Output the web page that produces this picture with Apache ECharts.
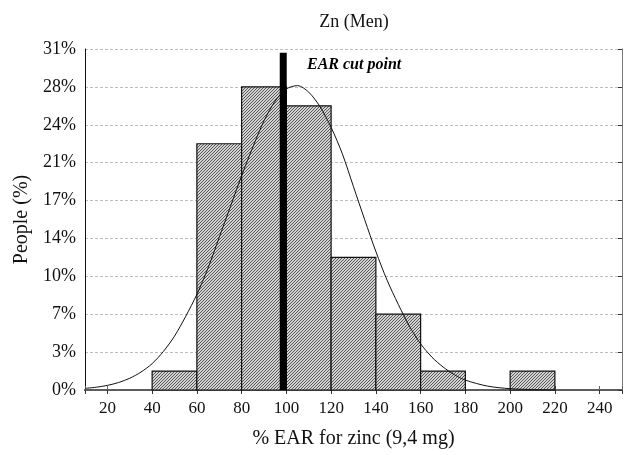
<!DOCTYPE html>
<html><head><meta charset="utf-8">
<script src="https://cdn.jsdelivr.net/npm/echarts@6/dist/echarts.min.js"></script>
<style>html,body{margin:0;padding:0;background:#fff}#c{width:625px;height:455px}</style>
</head><body><div id="c"></div>
<script>
// Histogram bins (% EAR) and people share (%)
const binStart = [40, 60, 80, 100, 120, 140, 160, 180, 200];
const binEnd   = [60, 80, 100, 120, 140, 160, 180, 200, 220];
const peoplePct = [1.72, 22.41, 27.59, 25.86, 12.07, 6.90, 1.72, 0, 1.72];
// Fitted normal curve
const curveX = [10, 15, 20, 25, 30, 35, 40, 45, 50, 55, 60, 65, 70, 75, 80, 85, 90, 95, 100, 105, 110, 115, 120, 125, 130, 135, 140, 145, 150, 155, 160, 165, 170, 175, 180, 190, 200, 210, 220];
const curveY = [0.15, 0.25, 0.42, 0.68, 1.07, 1.63, 2.4, 3.5, 4.9, 6.7, 8.7, 11.1, 13.9, 16.7, 19.5, 22.1, 24.5, 26.3, 27.4, 27.7, 27.1, 25.8, 23.9, 21.5, 18.5, 15.5, 12.6, 10.0, 7.8, 5.8, 4.2, 3.0, 2.1, 1.4, 0.9, 0.35, 0.12, 0.04, 0.01];
// EAR cut point
const cutX = [98.6, 98.6];
const cutY = [0, 30.7];
const xTicks = [20, 40, 60, 80, 100, 120, 140, 160, 180, 200, 220, 240];

const FONT = '"Liberation Serif", "Times New Roman", serif';

const pc = document.createElement('canvas');
pc.width = 3; pc.height = 3;
const g = pc.getContext('2d');
g.fillStyle = '#d4d4d4'; g.fillRect(0, 0, 3, 3);
g.fillStyle = '#555';
g.fillRect(2, 0, 1, 1); g.fillRect(1, 1, 1, 1); g.fillRect(0, 2, 1, 1);

const histData = binStart.map((s, i) => [s, binEnd[i], peoplePct[i]]);
const curveData = curveX.map((x, i) => [x, curveY[i]]);
const cutData = cutX.map((x, i) => [x, cutY[i]]);

const yInt = 100 / 29;
const chart = echarts.init(document.getElementById('c'), null, {renderer: 'canvas'});
chart.setOption({
  animation: false,
  backgroundColor: '#fff',
  title: {
    text: 'Zn (Men)', left: 349, top: 8, textAlign: 'center',
    textStyle: {fontFamily: FONT, fontSize: 18, fontWeight: 'normal', color: '#111'}
  },
  grid: {left: 85, right: -2, top: 49, bottom: 65},
  xAxis: [{
    type: 'value', min: 10, max: 250, splitNumber: 12,
    splitLine: {show: false},
    axisLine: {lineStyle: {color: '#111', width: 2}},
    axisTick: {inside: true, length: 4, lineStyle: {color: '#666'}},
    axisLabel: {
      fontFamily: FONT, fontSize: 17, color: '#111', margin: 10,
      formatter: v => xTicks.indexOf(v) >= 0 ? String(v) : ''
    },
    name: '% EAR for zinc (9,4 mg)', nameLocation: 'middle', nameGap: 39,
    nameTextStyle: {fontFamily: FONT, fontSize: 20, color: '#111'}
  }, {
    type: 'value', position: 'top', min: 10, max: 250, splitNumber: 12,
    splitLine: {show: false},
    axisLine: {lineStyle: {color: '#777', width: 1.5}},
    axisTick: {inside: true, length: 4, lineStyle: {color: '#333'}},
    axisLabel: {show: false}
  }],
  yAxis: [{
    type: 'value', min: 0, max: 9 * yInt, interval: yInt,
    splitLine: {show: true, lineStyle: {color: '#bdbdbd', type: [3, 2], width: 1}},
    axisLine: {show: true, lineStyle: {color: '#111', width: 1}},
    axisTick: {show: false},
    axisLabel: {
      fontFamily: FONT, fontSize: 18, color: '#111', margin: 9,
      formatter: v => Math.round(v) + '%'
    },
    name: 'People (%)', nameLocation: 'middle', nameGap: 53, nameRotate: 90,
    nameTextStyle: {fontFamily: FONT, fontSize: 20, color: '#111'}
  }, {
    type: 'value', position: 'right', min: 0, max: 9 * yInt, interval: yInt,
    splitLine: {show: false},
    axisLine: {show: true, lineStyle: {color: '#777'}},
    axisTick: {inside: true, length: 4, lineStyle: {color: '#333'}},
    axisLabel: {show: false}
  }],
  series: [{
    type: 'custom', xAxisIndex: 0, yAxisIndex: 0, z: 2,
    data: histData,
    renderItem: (params, api) => {
      const v = api.value(2);
      if (!(v > 0)) return null;
      const p0 = api.coord([api.value(0), v]);
      const p1 = api.coord([api.value(1), 0]);
      return {
        type: 'rect',
        shape: {x: p0[0], y: p0[1], width: p1[0] - p0[0], height: p1[1] - p0[1]},
        style: {fill: {image: pc, repeat: 'repeat'}, stroke: '#111', lineWidth: 1.2}
      };
    }
  }, {
    type: 'line', smooth: 0.3, symbol: 'none', z: 4,
    data: curveData,
    lineStyle: {color: '#111', width: 1}
  }, {
    type: 'line', symbol: 'none', z: 5,
    data: cutData,
    lineStyle: {color: '#000', width: 7, cap: 'butt'}
  }],
  graphic: [{
    type: 'text', left: 307, top: 57, z: 10,
    style: {text: 'EAR cut point', font: 'italic bold 16px ' + FONT, fill: '#000'}
  }]
});
</script></body></html>
